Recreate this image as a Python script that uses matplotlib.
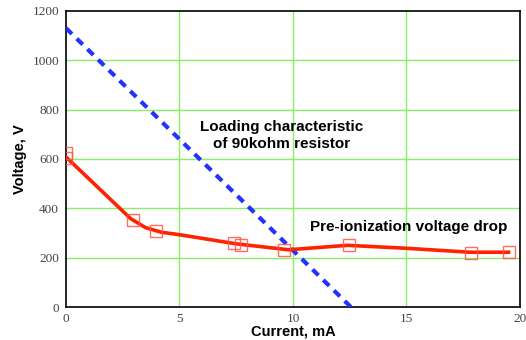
import matplotlib
matplotlib.use("Agg")
import matplotlib.pyplot as plt

# Measured points (red squares)
meas_x = [0.0, 0.0, 2.95, 3.95, 7.4, 7.7, 9.6, 12.45, 17.85, 19.5]
meas_v = [625, 605, 353, 308, 258, 251, 231, 253, 220, 221]

# Fitted curve (red line)
fit_x = [0.0, 2.85, 3.5, 4.2, 5.0, 7.5, 9.8, 12.4, 15.0, 17.8, 19.5]
fit_v = [608, 358, 322, 303, 293, 256, 232, 250, 238, 222, 222]

# Load line of 90 kOhm resistor (blue dashed)
load_x = [0.0, 12.55]
load_v = [1130, 0]

xticks = [0, 5, 10, 15, 20]
yticks = [0, 200, 400, 600, 800, 1000, 1200]

fig = plt.figure(figsize=(5.26, 3.4), dpi=100)
ax = fig.add_axes([0.1255, 0.097, 0.863, 0.871])

grid_c = "#88ee66"
for xt in xticks[1:]:
    ax.axvline(xt, color=grid_c, lw=1.0, zorder=1)
for yt in yticks[1:-1]:
    ax.axhline(yt, color=grid_c, lw=1.0, zorder=1)

ax.plot(load_x, load_v, color="#2233ff", lw=3, ls=(0, (2.0, 1.6)), zorder=3)
ax.plot(fit_x, fit_v, color="#ff2200", lw=2.6, zorder=4)
ax.plot(meas_x, meas_v, ls="none", marker="s", markersize=8.5,
        markerfacecolor="none", markeredgecolor="#ff5544", markeredgewidth=1.0,
        alpha=0.85, zorder=5)

ax.set_xlim(0, 20)
ax.set_ylim(0, 1200)
ax.set_xticks(xticks)
ax.set_yticks(yticks)
ax.tick_params(length=0, labelsize=9.5, labelcolor="#444444")
ax.tick_params(axis="x", pad=4)
ax.tick_params(axis="y", pad=5)
for lab in ax.get_xticklabels() + ax.get_yticklabels():
    lab.set_family("Liberation Serif")
for s in ax.spines.values():
    s.set_color("black")
    s.set_linewidth(1.2)

ax.set_xlabel("Current, mA", family="Liberation Sans", fontweight="bold",
              fontsize=10.5, labelpad=0)
ax.set_ylabel("Voltage, V", family="Liberation Sans", fontweight="bold",
              fontsize=10.5, labelpad=4)

ax.text(9.5, 696, "Loading characteristic\nof 90kohm resistor",
        family="Liberation Sans", fontweight="bold", fontsize=11,
        ha="center", va="center", linespacing=1.3, zorder=6)
ax.text(10.75, 325, "Pre-ionization voltage drop",
        family="Liberation Sans", fontweight="bold", fontsize=11,
        ha="left", va="center", zorder=6)

fig.savefig("out.png", dpi=100)
